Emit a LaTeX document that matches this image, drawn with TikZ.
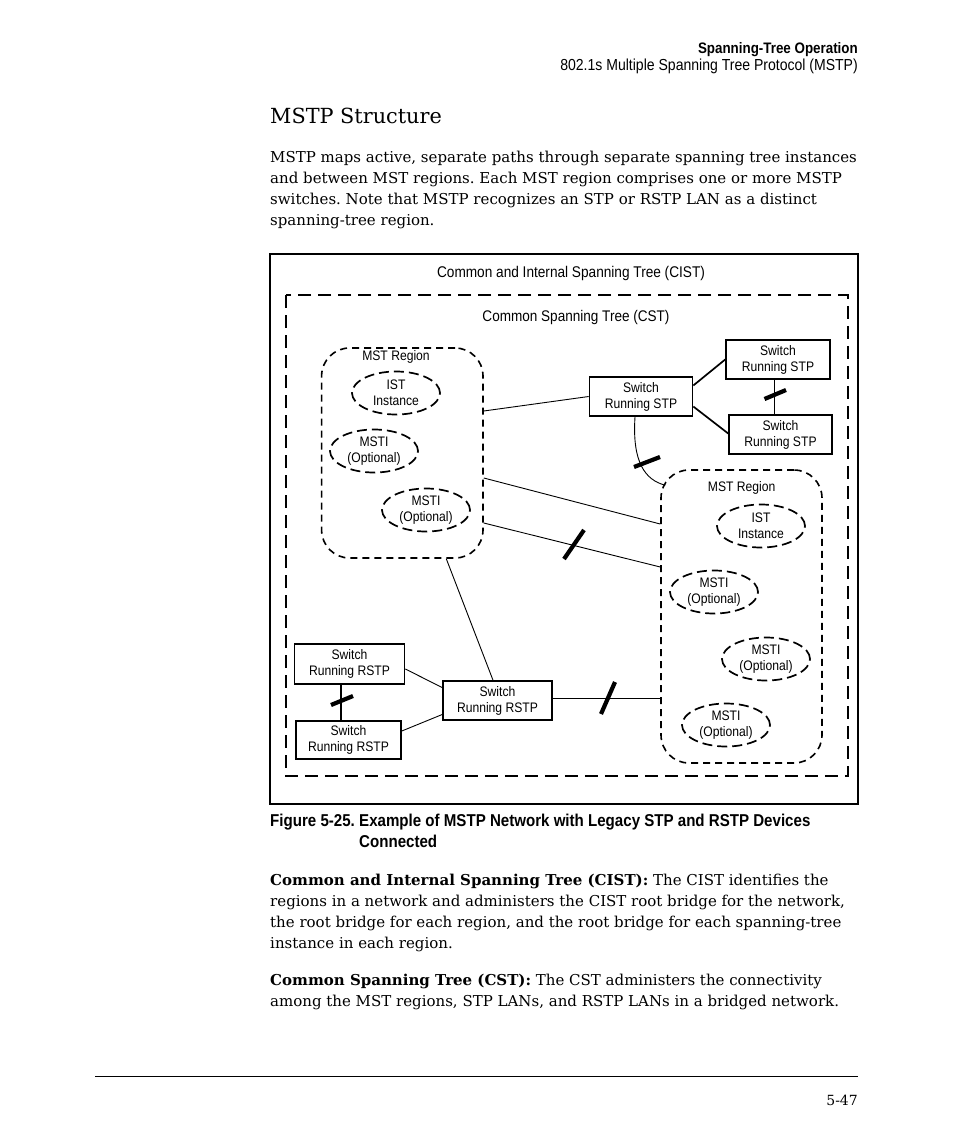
\documentclass[tikz,border=0pt]{standalone}
\usepackage{fontspec}
\setmainfont{DejaVu Serif}
\newfontfamily\cond[FakeStretch=0.88]{Liberation Sans}
\usetikzlibrary{shapes.geometric}
\frenchspacing
\tikzset{
  body/.style={anchor=base west, inner sep=0pt, font=\fontsize{15.0}{18}\selectfont},
  swbox/.style={draw, line width=1.6pt, inner sep=0pt, align=center, minimum height=39pt, font=\cond\fontsize{13.8}{16}\selectfont},
  inst/.style={ellipse, draw, line width=1.7pt, dash pattern=on 10pt off 5pt, inner sep=0pt, minimum width=88pt, minimum height=43pt, align=center, font=\cond\fontsize{13.8}{16}\selectfont},
  region/.style={draw, line width=1.6pt, dash pattern=on 7pt off 5pt, rounded corners=28pt, inner sep=0pt},
  lbl/.style={inner sep=0pt, font=\cond\fontsize{13.8}{16}\selectfont},
  link/.style={line width=0.9pt},
  tlink/.style={line width=1.7pt},
  brk/.style={line width=4.2pt},
}
\begin{document}
\begin{tikzpicture}[x=1pt,y=-1pt]
\useasboundingbox[fill=white] (0,0) rectangle (954,1145);
% header
\node[anchor=base east, inner sep=0pt, font=\cond\bfseries\fontsize{15.2}{18}\selectfont] (h1) at (858,54) {Spanning-Tree Operation};
\node[anchor=base east, inner sep=0pt, font=\cond\fontsize{15.95}{18}\selectfont] (h2) at (858,71) {802.1s Multiple Spanning Tree Protocol (MSTP)};
% title
\node[anchor=base west, inner sep=0pt, font=\fontsize{20.8}{26}\selectfont] (title) at (270,124) {MSTP Structure};
% intro paragraph
\node[body] (p1) at (270,162) {MSTP maps active, separate paths through separate spanning tree instances};
\node[body] (p2) at (270,183) {and between MST regions. Each MST region comprises one or more MSTP};
\node[body] (p3) at (270,204) {switches. Note that MSTP recognizes an STP or RSTP LAN as a distinct};
\node[body] (p4) at (270,225) {spanning-tree region.};
% frames
\draw[line width=1.4pt] (270,254) rectangle (858,804);
\draw[line width=2pt, dash pattern=on 13pt off 7pt] (285.8,295) rectangle (847.5,776);
\node[lbl, font=\cond\fontsize{15.5}{18}\selectfont] (cist) at (571,273) {Common and Internal Spanning Tree (CIST)};
\node[lbl, font=\cond\fontsize{15.4}{18}\selectfont] (cst) at (576,318) {Common Spanning Tree (CST)};
% regions
\node[region, minimum width=161.4pt, minimum height=210pt] (lreg) at (402.3,453) {};
\node[region, minimum width=161pt, minimum height=293pt] (rreg) at (741.5,616.5) {};
\node[lbl] (lregl) at (396,357) {MST Region};
\node[lbl] (rregl) at (741.7,488) {MST Region};
% instances
\node[inst] (ist1) at (396,393) {IST\\Instance};
\node[inst] (msti1) at (374,451) {MSTI\\(Optional)};
\node[inst] (msti2) at (426,510) {MSTI\\(Optional)};
\node[inst] (ist2) at (761,526) {IST\\Instance};
\node[inst] (msti3) at (714,592) {MSTI\\(Optional)};
\node[inst] (msti4) at (766,659) {MSTI\\(Optional)};
\node[inst] (msti5) at (726,725) {MSTI\\(Optional)};
% switches
\node[swbox, minimum width=103pt] (stpc) at (641,396.5) {Switch\\Running STP};
\node[swbox, minimum width=104pt] (stpa) at (778,359.5) {Switch\\Running STP};
\node[swbox, minimum width=103pt] (stpb) at (780.5,434.5) {Switch\\Running STP};
\node[swbox, minimum width=110pt, minimum height=40pt] (rstpa) at (349.5,664) {Switch\\Running RSTP};
\node[swbox, minimum width=105pt, minimum height=38pt] (rstpb) at (348.5,740) {Switch\\Running RSTP};
\node[swbox, minimum width=109pt] (rstpc) at (497.5,700.5) {Switch\\Running RSTP};
% links
\draw[link] ([yshift=42pt]lreg.east) -- (stpc.west);
\draw[tlink] ([yshift=11pt]stpc.east) -- (stpa.west);
\draw[tlink] ([yshift=-10pt]stpc.east) -- ([yshift=1pt]stpb.west);
\draw[link] ([xshift=-4pt]stpa.south) -- ([xshift=-4pt]stpa.south |- stpb.north);
\draw[brk] (764.5,399) -- (786,390);
\draw[link] ([xshift=-6pt]stpc.south) .. controls (632,462) and (645,480) .. ([xshift=5pt,yshift=-16pt]rreg.north west);
\draw[brk] (634,467) -- (660,457);
\draw[link] ([yshift=-25pt]lreg.east) -- ([yshift=92.5pt]rreg.west);
\draw[link] ([yshift=-70pt]lreg.east) -- ([yshift=49.5pt]rreg.west);
\draw[brk] (564,559) -- (584,530);
\draw[link] ([xshift=44pt]lreg.south) -- ([xshift=-4.5pt]rstpc.north);
\draw[link] ([yshift=-5pt]rstpa.east) -- ([yshift=13pt]rstpc.west);
\draw[link] ([yshift=9pt]rstpb.east) -- ([yshift=-14pt]rstpc.west);
\draw[tlink] ([xshift=-8.5pt]rstpa.south) -- ([xshift=-8.5pt]rstpa.south |- rstpb.north);
\draw[brk] (331,705) -- (353,696);
\draw[tlink] ([yshift=2pt]rstpc.east) -- ([yshift=2pt]rstpc.east -| rreg.west);
\draw[brk] (601,714) -- (615,682);
% caption
\node[anchor=base west, inner sep=0pt, font=\cond\bfseries\fontsize{17.15}{20}\selectfont] (cap0) at (270,826) {Figure 5-25.};
\node[anchor=base west, inner sep=0pt, font=\cond\bfseries\fontsize{17.15}{20}\selectfont] (cap1) at (359,826) {Example of MSTP Network with Legacy STP and RSTP Devices};
\node[anchor=base west, inner sep=0pt, font=\cond\bfseries\fontsize{17.15}{20}\selectfont] (cap2) at (359,847) {Connected};
% definitions
\node[body] (d1) at (270,885) {\textbf{Common and Internal Spanning Tree (CIST):} The CIST identifies the};
\node[body] (d2) at (270,906) {regions in a network and administers the CIST root bridge for the network,};
\node[body] (d3) at (270,927) {the root bridge for each region, and the root bridge for each spanning-tree};
\node[body] (d4) at (270,948) {instance in each region.};
\node[body] (e1) at (270,985) {\textbf{Common Spanning Tree (CST):} The CST administers the connectivity};
\node[body] (e2) at (270,1006) {among the MST regions, STP LANs, and RSTP LANs in a bridged network.};
% footer
\draw[line width=0.8pt] (95,1076) -- (858,1076);
\node[anchor=base east, inner sep=0pt, font=\fontsize{14}{17}\selectfont] (pg) at (858,1105) {5-47};
\end{tikzpicture}
\end{document}
